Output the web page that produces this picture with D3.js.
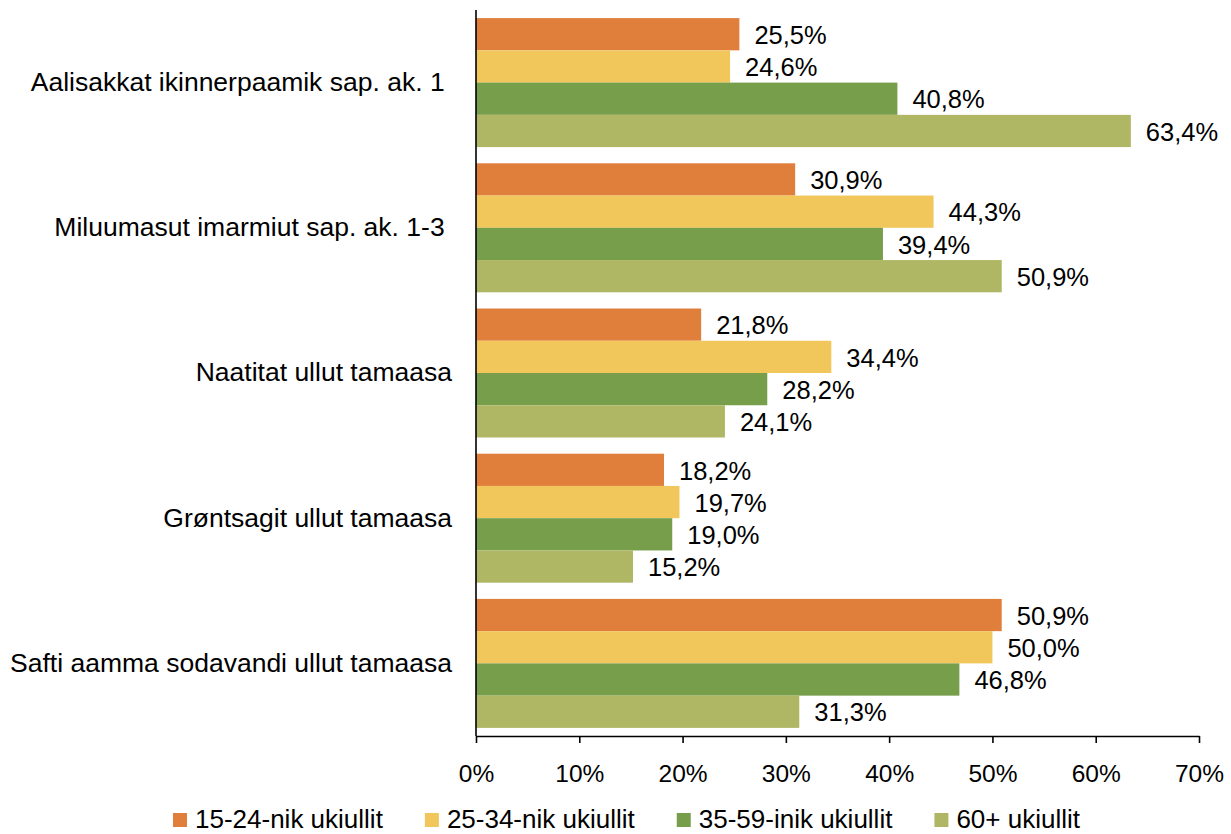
<!DOCTYPE html>
<html>
<head>
<meta charset="utf-8">
<script src="https://cdn.jsdelivr.net/npm/d3@7"></script>
<style>
  html, body { margin: 0; padding: 0; background: #fff; }
  svg { display: block; font-family: "Liberation Sans", Arial, sans-serif; }
</style>
</head>
<body>
<svg id="chart" width="1231" height="834"></svg>
<script>
const categories = [
  "Aalisakkat ikinnerpaamik sap. ak. 1\u00a0",
  "Miluumasut imarmiut sap. ak. 1-3\u00a0",
  "Naatitat ullut tamaasa",
  "Grøntsagit ullut tamaasa",
  "Safti aamma sodavandi ullut tamaasa"
];
const seriesNames = ["15-24-nik ukiullit", "25-34-nik ukiullit", "35-59-inik ukiullit", "60+ ukiullit"];
const s1524 = [25.5, 30.9, 21.8, 18.2, 50.9];
const s2534 = [24.6, 44.3, 34.4, 19.7, 50.0];
const s3559 = [40.8, 39.4, 28.2, 19.0, 46.8];
const s60 = [63.4, 50.9, 24.1, 15.2, 31.3];
const seriesValues = [s1524, s2534, s3559, s60];
const colors = ["#E07E3C", "#F1C75C", "#779E4A", "#AFB764"];
const xTicks = [0, 10, 20, 30, 40, 50, 60, 70];

const svg = d3.select("#chart");
const mLeft = 476, mRight = 1199, mTop = 10, mBottom = 736;

const x = d3.scaleLinear().domain([0, 70]).range([mLeft, mRight]);
const y0 = d3.scaleBand().domain(d3.range(categories.length)).range([mTop, mBottom])
  .paddingInner(0.1116).paddingOuter(0.0558);
const y1 = d3.scaleBand().domain(d3.range(seriesNames.length)).range([0, y0.bandwidth()]).padding(0);

const fmt = v => v.toFixed(1).replace(".", ",") + "%";

// bars
const groups = svg.append("g").selectAll("g").data(categories).join("g")
  .attr("transform", (d, i) => `translate(0,${y0(i)})`);

groups.each(function(cat, ci) {
  const g = d3.select(this);
  seriesValues.forEach((vals, si) => {
    g.append("rect")
      .attr("x", x(0))
      .attr("y", y1(si))
      .attr("width", x(vals[ci]) - x(0))
      .attr("height", y1.bandwidth())
      .attr("fill", colors[si]);
    g.append("text")
      .attr("x", x(vals[ci]) + 15)
      .attr("y", y1(si) + y1.bandwidth() / 2)
      .attr("dy", "0.38em")
      .attr("font-size", "25.5px")
      .attr("fill", "#000")
      .text(fmt(vals[ci]));
  });
});

// category labels
svg.append("g").selectAll("text").data(categories).join("text")
  .attr("x", 452)
  .attr("y", (d, i) => y0(i) + y0.bandwidth() / 2)
  .attr("dy", "0.32em")
  .attr("text-anchor", "end")
  .attr("font-size", "26.5px")
  .attr("fill", "#000")
  .style("white-space", "pre")
  .text(d => d);

// x axis
const xAxis = d3.axisBottom(x).tickValues(xTicks).tickFormat(d => d + "%")
  .tickSize(7).tickSizeOuter(0).tickPadding(22);
const ax = svg.append("g").attr("transform", `translate(0,${mBottom})`).call(xAxis);
ax.select(".domain").attr("stroke", "#000").attr("stroke-width", 1.6);
ax.selectAll(".tick line").attr("stroke", "#000").attr("stroke-width", 1.6);
ax.selectAll(".tick text").attr("font-size", "24.5px").attr("fill", "#000")
  .attr("font-family", "'Liberation Sans', Arial, sans-serif");

// y axis line
svg.append("line")
  .attr("x1", mLeft).attr("x2", mLeft)
  .attr("y1", mTop).attr("y2", mBottom)
  .attr("stroke", "#000").attr("stroke-width", 1.6);

// legend
const legend = svg.append("g");
let lx = 173;
seriesNames.forEach((name, i) => {
  legend.append("rect")
    .attr("x", lx).attr("y", 813).attr("width", 14).attr("height", 14)
    .attr("fill", colors[i]);
  const t = legend.append("text")
    .attr("x", lx + 22).attr("y", 828)
    .attr("font-size", "26px").attr("fill", "#000")
    .text(name);
  const w = t.node().getComputedTextLength();
  lx = lx + 22 + w + 42;
});
</script>
</body>
</html>
